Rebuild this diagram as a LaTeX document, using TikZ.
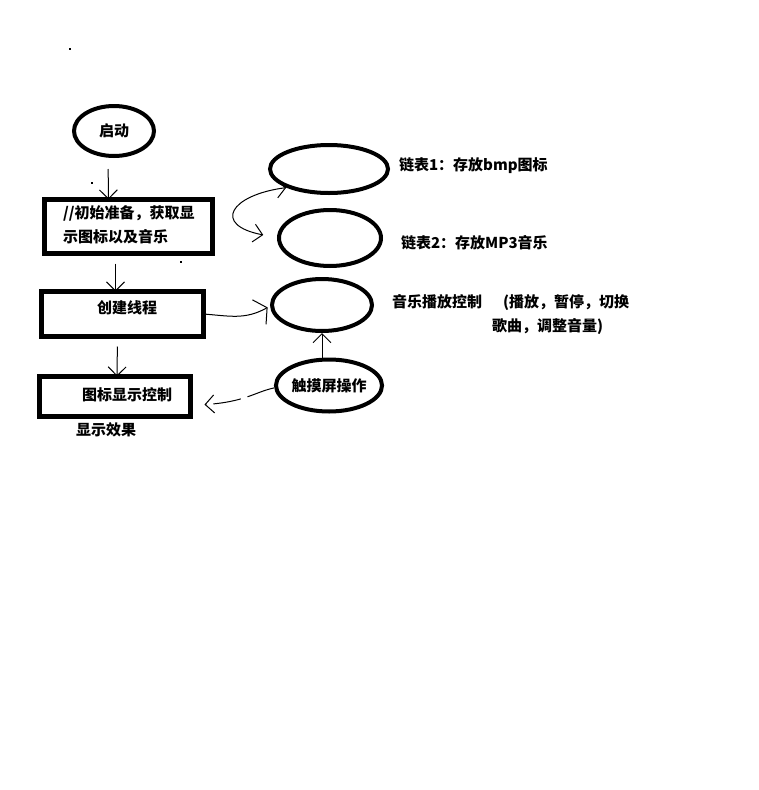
\documentclass[tikz,border=0pt]{standalone}
\usepackage{fontspec}
\newfontfamily\cjk{Noto Sans CJK SC}
\usetikzlibrary{shapes.geometric,arrows.meta,calc}
\begin{document}
\begin{tikzpicture}[x=1pt,y=-1pt,
  every node/.style={inner sep=0pt,outer sep=0pt},
  txt/.style={font=\cjk\bfseries\fontsize{15pt}{24pt}\selectfont,anchor=west,align=left},
  oval/.style={draw,ellipse,line width=4pt},
  block/.style={draw,rectangle,line width=4.5pt},
  barb/.tip={Straight Barb[length=9pt,width=18pt,line width=1pt]},
  bigbarb/.tip={Straight Barb[length=9pt,width=28pt,line width=1pt]},
  conn/.style={line width=1pt,-barb},
  speck/.style={fill=black,minimum size=2pt}]
\useasboundingbox[fill=white] (0,0) rectangle (759,790);

% start node and the three steps on the left
\node[oval,minimum width=80pt,minimum height=50pt,font=\cjk\bfseries\fontsize{15pt}{18pt}\selectfont] (start) at (114,131) {启动};
\node[block,minimum width=168pt,minimum height=54pt] (init) at (128.5,226.5) {};
\node[txt] (inittxt) at (63,225) {//初始准备，获取显\\示图标以及音乐};
\node[block,minimum width=162pt,minimum height=45pt] (thread) at (122.5,314) {};
\node[txt] (threadtxt) at (97,308) {创建线程};
\node[block,minimum width=151pt,minimum height=40pt] (icon) at (115,396.5) {};
\node[txt] (icontxt) at (82,395) {图标显示控制};
\node[txt] (effect) at (76,430) {显示效果};

% ovals on the right
\node[oval,minimum width=118pt,minimum height=48pt] (list1) at (329,169) {};
\node[oval,minimum width=102pt,minimum height=56pt] (list2) at (330,238) {};
\node[oval,minimum width=100pt,minimum height=52pt] (music) at (322,305) {};
\node[oval,minimum width=95pt,minimum height=52pt,font=\cjk\bfseries\fontsize{15pt}{18pt}\selectfont] (touch) at (329,385.5) {触摸屏操作};

% labels beside the ovals
\node[txt] (list1txt) at (399,166) {链表1：存放bmp图标};
\node[txt] (list2txt) at (401,243) {链表2：存放MP3音乐};
\node[txt] (musictxt) at (392,302) {音乐播放控制};
\node[txt] (musicops) at (492,315) {\hspace*{11pt}(播放，暂停，切换\\歌曲，调整音量)};

% connectors
\draw[conn,shorten <=13pt] ([xshift=-6]start.south) -- ([xshift=-20]init.north);
\draw[conn,shorten <=10pt] ([xshift=-13]init.south) -- ([xshift=-7]thread.north);
\draw[conn,shorten <=10pt] ([xshift=-5]thread.north |- thread.south) -- ([xshift=2]icon.north);
\draw[line width=1pt,-bigbarb,shorten >=5pt] (thread.east) .. controls (230,316) and (245,320) .. (music.west);
\draw[conn,shorten >=2pt] ([xshift=-7]touch.north) -- (music.south);
\draw[conn,dash pattern=on 28pt off 7pt,shorten >=14pt,shorten <=2pt]
  ([yshift=-2]touch.west) .. controls (255,392) and (245,402) .. ([yshift=-9]icon.east);
\draw[conn,barb-barb,shorten <=4pt,shorten >=16pt]
  (list1.205) .. controls (230,195) and (212,225) .. (list2.west);

% stray specks
\node[speck] (s1) at (70,49) {};
\node[speck] (s2) at (181,262) {};
\node[speck] (s3) at (92,183) {};
\end{tikzpicture}
\end{document}
